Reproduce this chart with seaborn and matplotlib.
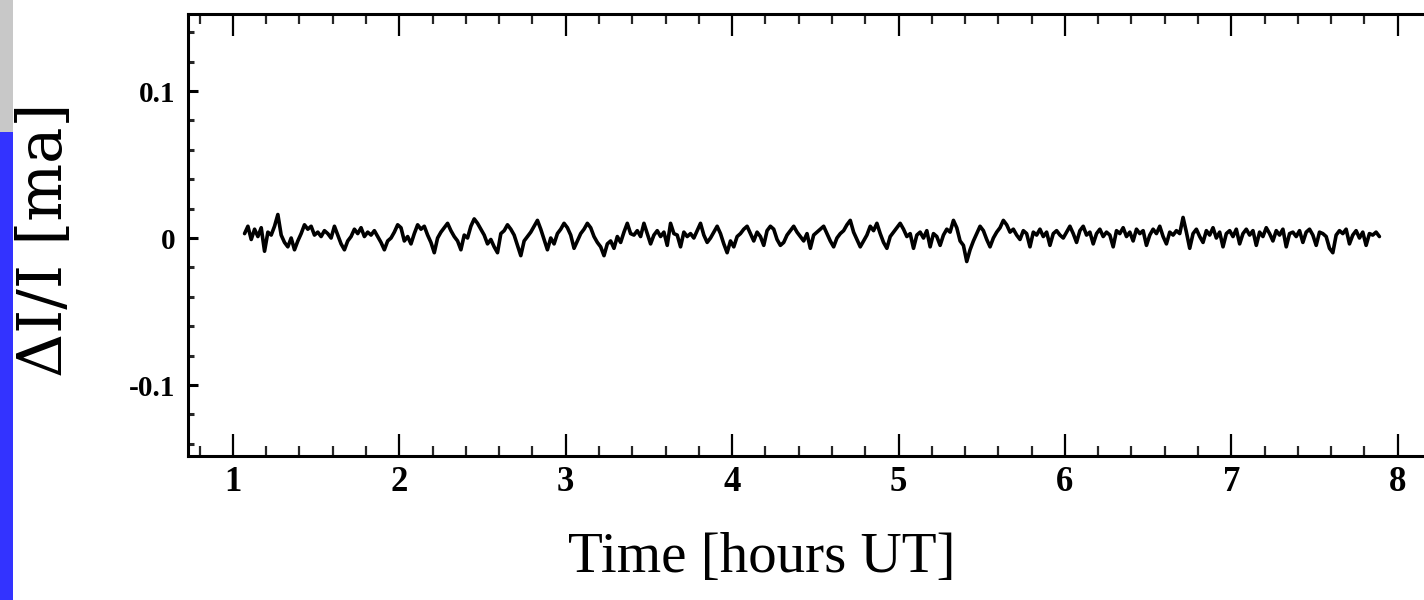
import numpy as np
import pandas as pd
import seaborn as sns
import matplotlib.pyplot as plt
from matplotlib.patches import Rectangle
from matplotlib.ticker import MultipleLocator

# light curve: first/last sample time (hours UT)
t_first, t_last = 1.07, 7.89
# dI/I in units of 1e-3 (ma), one value every ~0.02 h
dev_milli = [
    3, 8, -1, 6, 1, 7, -9, 4, 2, 8,
    16, 2, -3, -6, 0, -8, -2, 3, 9, 6,
    8, 2, 4, 1, 5, 3, 0, 8, 2, -4,
    -8, -2, 1, 6, 3, 7, 1, 4, 2, 5,
    1, -3, -8, -2, 0, 4, 9, 7, -2, 1,
    -4, 3, 9, 6, 8, 2, -3, -10, 0, 4,
    7, 10, 5, 1, -2, -8, 2, 0, 8, 13,
    10, 6, 2, -4, -1, -6, -10, 3, 5, 9,
    6, 2, -5, -12, -2, 1, 4, 8, 12, 6,
    -1, -8, 0, -4, 3, 6, 10, 7, 2, -7,
    -2, 3, 6, 10, 7, 1, -3, -6, -12, -4,
    -2, -7, 1, -3, 4, 10, 3, 2, 5, 1,
    10, 3, -4, 2, 5, 1, 4, -5, 10, 3,
    2, -6, 4, 1, 3, 0, 5, 10, 2, -3,
    0, 4, 8, 3, -4, -10, -2, -6, 1, 3,
    6, 8, 3, -2, 4, 1, -5, 5, 8, 6,
    -1, -5, -3, 2, 5, 8, 4, 1, -2, 3,
    -7, 2, 4, 6, 8, 3, -2, -6, 0, 3,
    5, 9, 12, 4, -1, -6, -2, 2, 8, 5,
    10, 3, -3, -7, 1, 4, 7, 10, 6, 1,
    3, -7, 2, 4, 0, 5, -6, 3, 1, -5,
    2, 6, 4, 12, 7, -2, -5, -16, -8, -2,
    3, 8, 5, -1, -6, 0, 4, 7, 12, 9,
    4, 6, 2, -1, 5, 3, -6, 4, 2, 6,
    1, 4, -5, 3, 5, 2, 0, 4, 8, 3,
    -3, 5, 8, 2, 4, -4, 3, 6, 1, 4,
    2, -6, 5, 3, 7, 1, 4, -2, 6, 3,
    5, -5, 2, 6, 3, 8, 1, -4, 4, 2,
    5, 3, 14, 4, -7, 3, 6, 1, -3, 5,
    2, 7, 0, 4, -6, 3, 5, 1, 6, -4,
    3, 6, 2, 5, -5, 4, 1, 7, 3, -2,
    5, 2, 6, -6, 3, 4, 1, 5, -3, 4,
    6, 2, -5, 4, 3, 1, -7, -10, 2, 5,
    3, 6, -4, 2, 5, 0, 4, -5, 3, 2,
    4, 1,
]

x_ticks = [1, 2, 3, 4, 5, 6, 7, 8]
y_ticks = [-0.1, 0.0, 0.1]
y_tick_labels = ['-0.1', '0', '0.1']

df = pd.DataFrame({
    'time': np.linspace(t_first, t_last, len(dev_milli)),
    'dI': np.array(dev_milli) / 1000.0,
})

sns.set_style('ticks')
plt.rcParams['font.family'] = ['Liberation Serif', 'DejaVu Serif']
plt.rcParams['text.color'] = 'black'
plt.rcParams['axes.labelcolor'] = 'black'

W, H = 1424, 600
fig = plt.figure(figsize=(W / 100, H / 100), dpi=100)

# coloured strip on the left edge
fig.add_artist(Rectangle((0, 0), 13 / W, 468 / H, transform=fig.transFigure,
                         color='#3333ff', lw=0))
fig.add_artist(Rectangle((0, 468 / H), 13 / W, 132 / H, transform=fig.transFigure,
                         color='#c8c8c8', lw=0))

ax = fig.add_axes([188 / W, 144 / H, (1430 - 188) / W, 442 / H])
sns.lineplot(data=df, x='time', y='dI', color='black', linewidth=2.6,
             estimator=None, sort=False, ax=ax)

ax.set_xlim(0.73, 8.194)
ax.set_ylim(-0.1483, 0.1524)

ax.set_xticks(x_ticks)
ax.set_xticklabels([str(v) for v in x_ticks], fontsize=25, fontweight='bold')
ax.set_yticks(y_ticks)
ax.set_yticklabels(y_tick_labels, fontsize=21, fontweight='bold')
ax.xaxis.set_minor_locator(MultipleLocator(0.2))
ax.yaxis.set_minor_locator(MultipleLocator(0.02))

ax.tick_params(axis='x', which='major', direction='in', length=16, width=1.6,
               top=True, bottom=True, pad=7, colors='black')
ax.tick_params(axis='x', which='minor', direction='in', length=7, width=1.6,
               top=True, bottom=True)
ax.tick_params(axis='y', which='major', direction='in', length=7, width=2.2,
               left=True, right=False, pad=9, colors='black')
ax.tick_params(axis='y', which='minor', direction='in', length=4, width=2.2,
               left=True, right=False)

for side in ['left', 'right', 'top', 'bottom']:
    ax.spines[side].set_linewidth(2.2)
    ax.spines[side].set_color('black')

ax.set_xlabel('Time [hours UT]', fontsize=41)
ax.xaxis.set_label_coords(0.462, -0.172)
ax.set_ylabel('\u0394I/I [ma]', fontsize=44, family=['DejaVu Serif'], va='center')
ax.yaxis.set_label_coords(-0.115, 0.49)

fig.savefig('out.png', dpi=100, facecolor='white')
